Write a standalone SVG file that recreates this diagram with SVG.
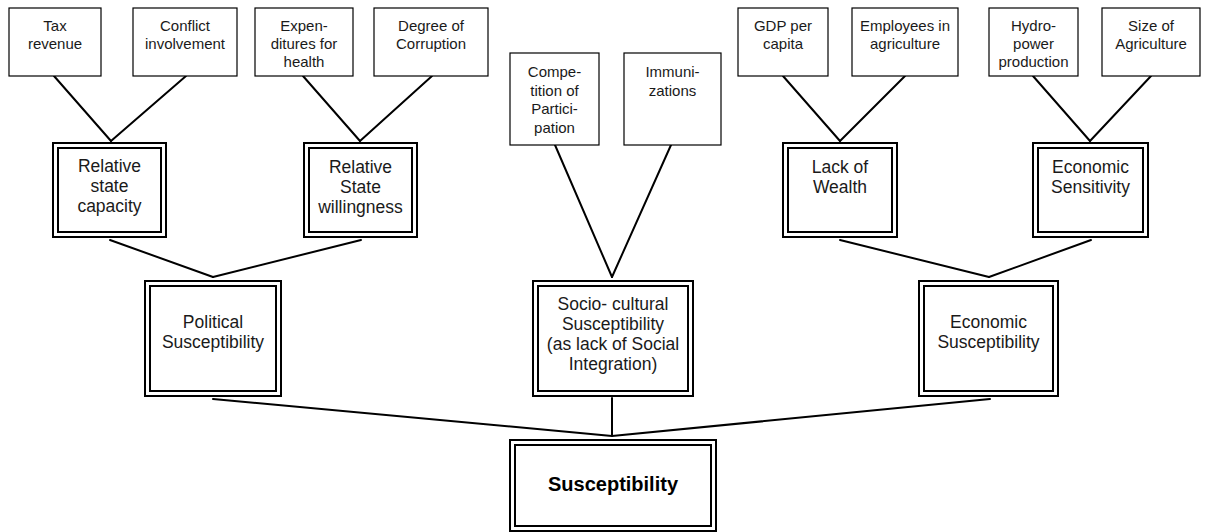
<svg xmlns="http://www.w3.org/2000/svg" width="1214" height="532" viewBox="0 0 1214 532">
<style>
  .leaf{fill:#fff;stroke:#000;stroke-width:1.2}
  .dbl{fill:#fff;stroke:#000;stroke-width:2}
  .t1{font-family:"Liberation Sans",Arial,sans-serif;font-size:15px;fill:#1a1a1a;text-anchor:middle}
  .t2{font-family:"Liberation Sans",Arial,sans-serif;font-size:17.5px;fill:#1a1a1a;text-anchor:middle}
  .tb{font-family:"Liberation Sans",Arial,sans-serif;font-size:20px;font-weight:bold;fill:#000;text-anchor:middle}
  .con line{stroke:#000;stroke-width:2;stroke-linecap:round}
</style>
<rect width="1214" height="532" fill="#fff"/>
<g id="connectors" class="con">
  <line x1="54" y1="76" x2="111" y2="141"/>
  <line x1="186" y1="76" x2="111" y2="141"/>
  <line x1="303" y1="76" x2="360" y2="141"/>
  <line x1="432" y1="76" x2="360" y2="141"/>
  <line x1="783" y1="76" x2="840" y2="141"/>
  <line x1="905" y1="76" x2="840" y2="141"/>
  <line x1="1033" y1="76" x2="1090" y2="141"/>
  <line x1="1151" y1="76" x2="1090" y2="141"/>
  <line x1="555" y1="145" x2="612" y2="277"/>
  <line x1="671" y1="145" x2="612" y2="277"/>
  <line x1="110" y1="240" x2="213" y2="277"/>
  <line x1="361" y1="240" x2="213" y2="277"/>
  <line x1="840" y1="240" x2="989" y2="277"/>
  <line x1="1091" y1="240" x2="989" y2="277"/>
  <line x1="213" y1="399" x2="612" y2="436"/>
  <line x1="612" y1="398" x2="612" y2="436"/>
  <line x1="990" y1="399" x2="612" y2="436"/>
</g>
<g id="tax">
  <rect class="leaf" x="9" y="8" width="92" height="68"/>
  <text class="t1" x="55" y="31">Tax</text>
  <text class="t1" x="55" y="49">revenue</text>
</g>
<g id="conflict">
  <rect class="leaf" x="133" y="8" width="104" height="68"/>
  <text class="t1" x="185" y="31">Conflict</text>
  <text class="t1" x="185" y="49">involvement</text>
</g>
<g id="expenditures">
  <rect class="leaf" x="255" y="8" width="98" height="68"/>
  <text class="t1" x="304" y="31">Expen-</text>
  <text class="t1" x="304" y="49">ditures for</text>
  <text class="t1" x="304" y="67">health</text>
</g>
<g id="corruption">
  <rect class="leaf" x="374" y="8" width="114" height="68"/>
  <text class="t1" x="431" y="31">Degree of</text>
  <text class="t1" x="431" y="49">Corruption</text>
</g>
<g id="competition">
  <rect class="leaf" x="510" y="53" width="89" height="92"/>
  <text class="t1" x="554.5" y="77">Compe-</text>
  <text class="t1" x="554.5" y="95.5">tition of</text>
  <text class="t1" x="554.5" y="114">Partici-</text>
  <text class="t1" x="554.5" y="132.5">pation</text>
</g>
<g id="immunizations">
  <rect class="leaf" x="624" y="53" width="97" height="92"/>
  <text class="t1" x="672.5" y="77">Immuni-</text>
  <text class="t1" x="672.5" y="95.5">zations</text>
</g>
<g id="gdp">
  <rect class="leaf" x="738" y="8" width="90" height="68"/>
  <text class="t1" x="783" y="31">GDP per</text>
  <text class="t1" x="783" y="49">capita</text>
</g>
<g id="employees">
  <rect class="leaf" x="852" y="8" width="106" height="68"/>
  <text class="t1" x="905" y="31">Employees in</text>
  <text class="t1" x="905" y="49">agriculture</text>
</g>
<g id="hydropower">
  <rect class="leaf" x="989" y="8" width="89" height="68"/>
  <text class="t1" x="1033.5" y="31">Hydro-</text>
  <text class="t1" x="1033.5" y="49">power</text>
  <text class="t1" x="1033.5" y="67">production</text>
</g>
<g id="agriculture-size">
  <rect class="leaf" x="1102" y="8" width="98" height="68"/>
  <text class="t1" x="1151" y="31">Size of</text>
  <text class="t1" x="1151" y="49">Agriculture</text>
</g>
<g id="state-capacity">
  <rect class="dbl" x="53" y="143" width="113" height="94"/>
  <rect class="dbl" x="58" y="148" width="103" height="84"/>
  <text class="t2" x="109.5" y="172">Relative</text>
  <text class="t2" x="109.5" y="192">state</text>
  <text class="t2" x="109.5" y="212">capacity</text>
</g>
<g id="state-willingness">
  <rect class="dbl" x="304" y="143" width="113" height="94"/>
  <rect class="dbl" x="309" y="148" width="103" height="84"/>
  <text class="t2" x="360.5" y="173">Relative</text>
  <text class="t2" x="360.5" y="193">State</text>
  <text class="t2" x="360.5" y="213">willingness</text>
</g>
<g id="lack-of-wealth">
  <rect class="dbl" x="783" y="143" width="114" height="94"/>
  <rect class="dbl" x="788" y="148" width="104" height="84"/>
  <text class="t2" x="840" y="173">Lack of</text>
  <text class="t2" x="840" y="193">Wealth</text>
</g>
<g id="economic-sensitivity">
  <rect class="dbl" x="1033" y="143" width="115" height="94"/>
  <rect class="dbl" x="1038" y="148" width="105" height="84"/>
  <text class="t2" x="1090.5" y="173">Economic</text>
  <text class="t2" x="1090.5" y="193">Sensitivity</text>
</g>
<g id="political">
  <rect class="dbl" x="145" y="281" width="136" height="115"/>
  <rect class="dbl" x="150" y="286" width="126" height="105"/>
  <text class="t2" x="213" y="328">Political</text>
  <text class="t2" x="213" y="348">Susceptibility</text>
</g>
<g id="sociocultural">
  <rect class="dbl" x="533" y="281" width="160" height="115"/>
  <rect class="dbl" x="538" y="286" width="150" height="105"/>
  <text class="t2" x="613" y="310">Socio- cultural</text>
  <text class="t2" x="613" y="330">Susceptibility</text>
  <text class="t2" x="613" y="350">(as lack of Social</text>
  <text class="t2" x="613" y="370">Integration)</text>
</g>
<g id="economic">
  <rect class="dbl" x="919" y="281" width="139" height="115"/>
  <rect class="dbl" x="924" y="286" width="129" height="105"/>
  <text class="t2" x="988.5" y="328">Economic</text>
  <text class="t2" x="988.5" y="348">Susceptibility</text>
</g>
<g id="susceptibility">
  <rect class="dbl" x="510" y="440" width="206" height="91"/>
  <rect class="dbl" x="515" y="445" width="196" height="81"/>
  <text class="tb" x="613" y="491">Susceptibility</text>
</g>
</svg>
